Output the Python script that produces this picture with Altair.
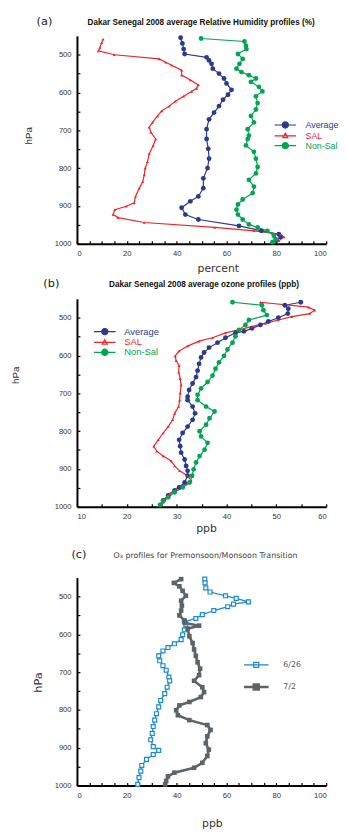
import altair as alt
import pandas as pd

# ---------------- Panel (a): Relative humidity (%) ----------------
RH_AVG_P = [455, 470, 485, 498, 507, 515, 524, 537, 550, 563, 576, 593, 606, 619, 636, 653, 671, 697,
            723, 749, 775, 800, 827, 853, 875, 888, 905, 923, 936, 953, 966, 975, 982, 992]
RH_AVG_V = [41.6, 42.3, 42.8, 43.2, 52, 53, 54, 54.5, 57, 59, 60, 62, 60.6, 58.6, 57, 55, 53, 52,
            52, 52.7, 53, 52.4, 50.7, 50.7, 48.7, 45.5, 42, 43.5, 48.7, 65, 74, 81, 81.7, 80]

RH_SAL_P = [459, 468, 481, 490, 500, 511, 520, 528, 541, 554, 567, 580, 589, 597, 610, 623, 636, 649,
            662, 679, 692, 705, 723, 740, 762, 783, 800, 818, 836, 853, 875, 892, 901, 910, 923, 931,
            944, 957, 966, 975, 982, 992]
RH_SAL_V = [10.5, 9.9, 9.2, 8.6, 15, 33, 35.6, 38, 42, 42, 45.5, 48.7, 48, 46, 42.8, 39.5, 37, 34,
            32.3, 30.3, 29, 29.6, 31.6, 30.6, 29, 28.3, 27.4, 27, 26.4, 25, 23.5, 23, 19.8, 15.2, 14.5, 16.5,
            27, 55.3, 71, 81.7, 83, 81]

RH_NON_P = [457, 465, 476, 485, 498, 511, 524, 537, 546, 554, 563, 572, 585, 597, 610, 628, 645, 662,
            679, 697, 714, 723, 740, 757, 775, 797, 814, 831, 849, 866, 883, 896, 910, 923, 936, 949,
            957, 966, 979, 988, 996]
RH_NON_V = [49.8, 67.2, 67.8, 68, 64.6, 66.5, 65.2, 64, 66, 69, 71.8, 69.8, 73, 74.4, 71.8, 72.5, 71.8, 69.8,
            71, 68.5, 69, 68.5, 67.8, 71, 71.8, 72.5, 71.8, 69, 71, 70.5, 66.5, 64.6, 64, 64.6, 66.5, 69,
            72.5, 76.4, 79, 79.7, 78.4]

# ---------------- Panel (b): ozone (ppb) ----------------
O3_AVG_P = [459, 467, 476, 489, 500, 510, 519, 528, 536, 540, 553, 566, 579, 592, 605, 622, 640, 657,
            674, 691, 709, 718, 735, 753, 770, 788, 805, 823, 840, 857, 875, 892, 905, 918, 936, 949,
            957, 970, 983, 995]
O3_AVG_V = [54.9, 51.7, 52.4, 52.3, 50.4, 48.4, 46.8, 45.1, 43.5, 41.8, 39.8, 38.2, 36.5, 35.5, 34.9, 34.5, 34.2, 33.9,
            33.2, 32.5, 32.2, 32.2, 33.2, 33.7, 33.2, 32.2, 31.2, 30.5, 30.7, 30.9, 31.6, 31.9, 32.2, 32.2, 31.6, 30.5,
            29.6, 28.3, 27.3, 26.7]

O3_SAL_P = [459, 472, 480, 489, 497, 506, 515, 523, 532, 540, 553, 562, 575, 588, 601, 614, 627, 644,
            661, 678, 700, 718, 735, 753, 770, 788, 805, 823, 840, 853, 866, 879, 892, 905, 918, 931,
            940, 953, 966, 979, 995]
O3_SAL_V = [46.8, 56.4, 57.7, 56.7, 53.1, 50.4, 47.8, 45.1, 42.5, 39.8, 37.2, 34.5, 32.2, 30.5, 29.7, 29.9, 30.5, 30.4,
            30.7, 30.9, 30.7, 30.6, 30.4, 29.6, 29.2, 28.3, 27.3, 26.3, 25.4, 26, 27.3, 28.9, 29.6, 30.6, 32.2, 32.9,
            31.9, 29.9, 28.6, 27.6, 27]

O3_NON_P = [459, 467, 480, 493, 506, 519, 532, 549, 566, 584, 601, 618, 635, 653, 670, 687, 704, 718,
            735, 748, 766, 783, 800, 814, 831, 849, 866, 883, 901, 918, 936, 949, 962, 975, 986, 995]
O3_NON_V = [41.2, 47.1, 47.4, 48.1, 44.5, 43.8, 42.5, 41.8, 41.2, 40.2, 39.5, 38.5, 37.8, 37.2, 36.2, 34.9, 34.2, 34.2,
            35.9, 37.6, 36.6, 35.9, 34.6, 34.9, 36.2, 35.6, 34.6, 33.9, 33.4, 33.1, 32.6, 31.2, 29.6, 28.3, 27.3, 26.7]

# ---------------- Panel (c): O3 premonsoon/monsoon transition ----------------
C626_P = [454, 464, 477, 488, 498, 505, 514, 520, 527, 537, 548, 558, 567, 575, 588, 601, 614, 625,
          635, 644, 657, 670, 683, 695, 713, 723, 740, 757, 775, 792, 810, 827, 844, 862, 879, 897,
          907, 918, 931, 947, 962, 979, 997]
C626_V = [51.3, 51.4, 51.7, 53.4, 59.6, 63.9, 68.8, 62.8, 60.5, 54.9, 50.3, 47.7, 43.1, 43.7, 43.1, 42.4, 41.8, 39.1,
          36.5, 34.5, 32.8, 33.2, 34.5, 35.8, 36.9, 37.2, 36.2, 35.2, 33.6, 32.8, 31.9, 31.2, 30.6, 30.2, 29.6, 30.6,
          32.8, 30.6, 27.9, 26, 25.6, 24.9, 24.4]

C72_P = [454, 464, 473, 485, 498, 511, 524, 537, 550, 563, 570, 577, 585, 605, 623, 640, 657, 674,
         691, 708, 723, 740, 753, 766, 779, 788, 801, 814, 827, 840, 853, 870, 888, 905, 922, 940,
         953, 966, 976, 988, 997]
C72_V = [41.8, 38.9, 41.1, 42.4, 43.7, 41.8, 42.1, 41.8, 41.1, 43.1, 43.5, 49, 44.4, 45.1, 46.4, 47, 47.7, 48.4,
         49.4, 49, 47, 50.3, 51, 49.7, 45.1, 41.1, 39.8, 40.5, 45.1, 52.3, 53.6, 52.3, 51.7, 52.9, 52.3, 50.3,
         47, 39.1, 36.5, 35.8, 35.4]

SERIES_AB = ["Average", "SAL", "Non-Sal"]
SERIES_C = ["6/26", "7/2"]
Y_TICKS = list(range(500, 1001, 50))
TITLE_A = "Dakar Senegal 2008 average Relative Humidity profiles (%)"
TITLE_B = "Dakar Senegal 2008 average ozone profiles (ppb)"
TITLE_C = "O₃ profiles for Premonsoon/Monsoon Transition"


def long(parts):
    rows = []
    for name, ps, vs in parts:
        for k, (p, v) in enumerate(zip(ps, vs)):
            rows.append({"series": name, "p": p, "v": v, "i": k})
    return pd.DataFrame(rows)


BLUE, RED, GREEN = "#2b3990", "#ed2528", "#00a651"
C_BLUE, C_GRAY = "#1b8ad4", "#5d6467"
W, H = 253, 211
C_TOP = 16            # extra room above panel (c) plot area
LAB = "Liberation Sans"
HUM = "DejaVu Sans"


def pick(names, values):
    def lit(v):
        return f"'{v}'" if isinstance(v, str) else str(v)
    expr = lit(values[-1])
    for n, v in reversed(list(zip(names[:-1], values[:-1]))):
        expr = f"datum.value === '{n}' ? {lit(v)} : ({expr})"
    return {"expr": expr}


def make_legend(names, fills, shapes, widths, label_colors, x, y, font, fsize, row_pad, lab_off):
    return alt.Legend(
        title=None, orient="none", legendX=x, legendY=y, symbolSize=81,
        labelFont=font, labelFontSize=fsize, rowPadding=row_pad, labelOffset=lab_off,
        padding=0, labelLimit=200,
        symbolFillColor=pick(names, fills), symbolType=pick(names, shapes),
        symbolStrokeWidth=pick(names, widths), labelColor=pick(names, label_colors),
        symbolOpacity=1,
    )


def y_enc(tx, ty, tsize, tfont, rng):
    return alt.Y("p:Q", scale=alt.Scale(domain=[450, 1000], range=rng, nice=False, zero=False),
                 axis=alt.Axis(values=Y_TICKS, format="d",
                               labelExpr="datum.value % 100 === 0 ? datum.label : ''",
                               title="hPa", titleX=tx, titleY=ty, titleAngle=270, titleAlign="center",
                               titleBaseline="middle", titleFont=tfont, titleFontSize=tsize,
                               titleFontWeight="normal", titleColor="#333"))


def x_enc(dom, step, every, title, tx, ty):
    return alt.X("v:Q", scale=alt.Scale(domain=dom, nice=False, zero=False),
                 axis=alt.Axis(values=list(range(dom[0], dom[1] + 1, step)),
                               labelExpr=f"datum.value % {every} === 0 ? datum.label : ''",
                               title=title, titleX=tx, titleY=ty, titleAlign="center",
                               titleBaseline="middle", titleFont=HUM, titleFontSize=11,
                               titleFontWeight="normal", titleColor="#333"))


def text_layer(txt, x, y, font, size, weight, color):
    return alt.Chart(pd.DataFrame({"t": [txt]})).mark_text(
        font=font, fontSize=size, fontWeight=weight, color=color, align="center", baseline="middle"
    ).encode(x=alt.value(x), y=alt.value(y), text="t:N")


CIRC = "M-2.44,0L2.44,0M0.7,0A0.7,0.7,0,1,1,-0.7,0A0.7,0.7,0,1,1,0.7,0Z"
TRI = "M-2.44,0L2.44,0M0,-0.6L0.55,0.4L-0.55,0.4Z"
SQ = "M-2.78,0L2.78,0M-0.56,-0.56L0.56,-0.56L0.56,0.56L-0.56,0.56Z"

MARKERS_AB = {"Average": ("circle", 24, BLUE), "SAL": ("triangle-up", 9, RED), "Non-Sal": ("circle", 24, GREEN)}


def profile_panel(df, xenc, yenc, title_text, title_xy, tag, tag_xy, leg):
    cscale = alt.Scale(domain=SERIES_AB, range=[BLUE, RED, GREEN])
    base = alt.Chart(df)
    line = base.mark_line(strokeWidth=1.2).encode(
        x=xenc, y=yenc, order=alt.Order("i:Q"),
        stroke=alt.Stroke("series:N", scale=cscale, legend=leg))
    layers = [line]
    for name in SERIES_AB:
        shape, size, col = MARKERS_AB[name]
        layers.append(base.transform_filter(f"datum.series === '{name}'").mark_point(
            shape=shape, size=size, filled=True, color=col, opacity=1).encode(x=xenc, y=yenc))
    layers.append(text_layer(title_text, title_xy[0], title_xy[1], LAB, 8.3, "bold", "#111"))
    layers.append(text_layer(tag, tag_xy[0], tag_xy[1], HUM, 11.5, "normal", "#222"))
    return alt.layer(*layers).properties(width=W, height=H)


# ---- panel a
df_a = long([("Average", RH_AVG_P, RH_AVG_V), ("SAL", RH_SAL_P, RH_SAL_V), ("Non-Sal", RH_NON_P, RH_NON_V)])
leg_a = make_legend(SERIES_AB, [BLUE, "#ffffff", GREEN], [CIRC, TRI, CIRC],
                    [1.2, 1.2, 1.2], [BLUE, RED, GREEN], 207, 86, LAB, 9, -4, 16)
pa = profile_panel(df_a, x_enc([0, 100], 5, 20, "percent", 143, 25), y_enc(-49, 101, 10, LAB, [0, H]),
                   TITLE_A, (126, -13.3), "(a)", (-33, -14), leg_a)

# ---- panel b
df_b = long([("Average", O3_AVG_P, O3_AVG_V), ("SAL", O3_SAL_P, O3_SAL_V), ("Non-Sal", O3_NON_P, O3_NON_V)])
leg_b = make_legend(SERIES_AB, [BLUE, "#ffffff", GREEN], [CIRC, TRI, CIRC],
                    [1.2, 1.2, 1.2], [BLUE, RED, GREEN], 23.5, 28.5, LAB, 9.5, -4, 15)
pb = profile_panel(df_b, x_enc([10, 60], 5, 10, "ppb", 131, 22), y_enc(-62, 77, 10, LAB, [0, H]),
                   TITLE_B, (129, -14.5), "(b)", (-26, -15), leg_b)

# ---- panel c
df_c = long([("6/26", C626_P, C626_V), ("7/2", C72_P, C72_V)])
cscale_c = alt.Scale(domain=SERIES_C, range=[C_BLUE, C_GRAY])
leg_c = make_legend(SERIES_C, ["#ffffff", C_GRAY], [SQ, SQ], [1.4, 3],
                    ["#555555", "#555555"], 176, 83 + C_TOP, HUM, 8, 9, 21.5)
xc = x_enc([0, 100], 5, 20, "ppb", 137, 39)
yc = y_enc(-39, 106 + C_TOP, 11.5, HUM, [C_TOP, H + C_TOP])
base_c = alt.Chart(df_c)
line_c = base_c.mark_line().encode(
    x=xc, y=yc, order=alt.Order("i:Q"),
    stroke=alt.Stroke("series:N", scale=cscale_c, legend=leg_c),
    strokeWidth=alt.StrokeWidth("series:N", scale=alt.Scale(domain=SERIES_C, range=[1.3, 2.6]), legend=None))
pts_c1 = base_c.transform_filter("datum.series === '6/26'").mark_point(
    shape="square", filled=False, fill="white", stroke=C_BLUE, size=16, strokeWidth=1.2, opacity=1).encode(
    x=xc, y=yc)
pts_c2 = base_c.transform_filter("datum.series === '7/2'").mark_point(
    shape="square", filled=True, color=C_GRAY, size=22, opacity=1).encode(x=xc, y=yc)
ttl_c = text_layer(TITLE_C, 130.5, C_TOP - 22, HUM, 8, "normal", "#444")
lab_c = text_layer("(c)", 2, C_TOP - 23, HUM, 11.5, "normal", "#222")
pc = alt.layer(line_c, pts_c1, pts_c2, ttl_c, lab_c).properties(width=W, height=H + C_TOP)

chart = alt.vconcat(pa, pb, pc, spacing=56, bounds="flush").resolve_scale(
    stroke="independent", strokeWidth="independent").properties(
    padding={"left": 3, "top": 2, "right": 0, "bottom": 0}
).configure_view(stroke=None).configure_axis(
    domainColor="black", domainWidth=2, tickColor="black", tickWidth=1.2,
    tickSize={"expr": "-3"}, labelPadding=9, labelFont=LAB, labelFontSize=7.7, labelColor="#333",
    grid=False
)

chart.save("out.html", embed_options={"renderer": "svg", "actions": False})
